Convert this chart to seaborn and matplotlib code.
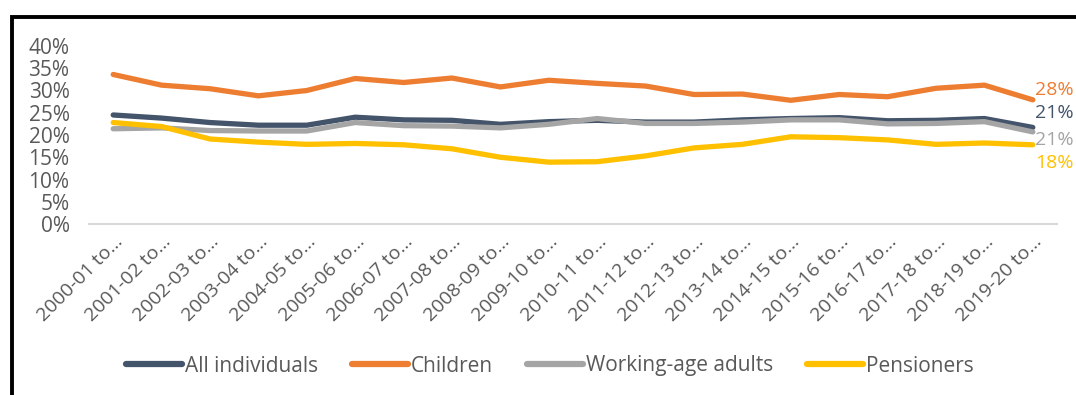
import numpy as np
import pandas as pd
import matplotlib
matplotlib.use('Agg')
import matplotlib.pyplot as plt
import seaborn as sns
from matplotlib.patches import Rectangle

years=["2000-01","2001-02","2002-03","2003-04","2004-05","2005-06","2006-07","2007-08","2008-09","2009-10",
       "2010-11","2011-12","2012-13","2013-14","2014-15","2015-16","2016-17","2017-18","2018-19","2019-20"]
labels=[y+" to…" for y in years]

all_individuals=[24.5,23.8,22.8,22.2,22.2,24.0,23.4,23.3,22.4,23.0,23.3,22.9,22.9,23.4,23.7,23.9,23.2,23.3,23.7,21.7]
children=[33.6,31.2,30.4,28.8,30.0,32.7,31.8,32.8,30.8,32.3,31.6,31.0,29.1,29.2,27.8,29.1,28.6,30.5,31.2,27.9]
working_age=[21.4,21.6,21.0,20.9,20.9,22.8,22.1,22.0,21.6,22.4,23.7,22.6,22.6,22.9,23.4,23.4,22.5,22.6,23.0,20.7]
pensioners=[22.8,21.9,19.1,18.4,17.9,18.1,17.8,16.9,15.0,13.9,14.0,15.3,17.1,17.9,19.6,19.4,18.9,17.9,18.2,17.8]

groups=["All individuals","Children","Working-age adults","Pensioners"]
colors=["#44546A","#ED7D31","#A5A5A5","#FFC000"]
end_labels=["21%","28%","21%","18%"]

df=pd.DataFrame({"period":labels*4,
                 "value":np.array(all_individuals+children+working_age+pensioners)/100,
                 "group":np.repeat(groups,len(labels))})

sns.set_style("white")
plt.rcParams['font.family']=['Open Sans','DejaVu Sans']
text_col="#595959"

fig=plt.figure(figsize=(10.76,3.95),dpi=100)
ax=fig.add_axes([89/1076,1-224/395,968/1076,178/395])

sns.lineplot(data=df,x="period",y="value",hue="group",hue_order=groups,palette=colors,
             linewidth=3.8,ax=ax,legend=False,sort=False)
for line in ax.get_lines():
    line.set_solid_capstyle('round')
    line.set_solid_joinstyle('round')

ax.set_ylim(0,0.4)
ax.set_xlim(-0.5,len(labels)-0.5)
ax.set_yticks(np.arange(0,0.41,0.05))
ax.set_yticklabels(["%d%%"%round(v*100) for v in np.arange(0,0.41,0.05)],color=text_col,fontsize=15)
ax.set_xticks(range(len(labels)))
ax.set_xticklabels(labels,rotation=45,ha='right',rotation_mode='anchor',color=text_col,fontsize=14)
ax.tick_params(axis='both',length=0)
ax.tick_params(axis='y',pad=14)
ax.tick_params(axis='x',pad=6)
ax.set_xlabel("")
ax.set_ylabel("")
for s in ["top","right","left"]:
    ax.spines[s].set_visible(False)
ax.spines["bottom"].set_color("#D9D9D9")
ax.spines["bottom"].set_linewidth(1.5)

# end labels, nudged apart like the original
offsets={"Children":0.022,"All individuals":0.032,"Working-age adults":-0.018,"Pensioners":-0.041}
series=[all_individuals,children,working_age,pensioners]
for g,c,lab,vals in zip(groups,colors,end_labels,series):
    ax.text(len(labels)-1+0.04,vals[-1]/100+offsets[g],lab,color=c,fontsize=14,va='center',ha='left',clip_on=False)

handles=[plt.Line2D([0],[0],color=c,lw=4.5,solid_capstyle='round') for c in colors]
fig.legend(handles,groups,loc='center',ncol=4,bbox_to_anchor=(0.511,1-366/395),frameon=False,
           fontsize=15,labelcolor=text_col,handlelength=2.7,handletextpad=0.15,columnspacing=1.6)

fig.patches.append(Rectangle((11.5/1076,-0.1),1.2,1-17/395+0.1,transform=fig.transFigure,
                             fill=False,edgecolor='black',linewidth=2.8,zorder=10))

fig.savefig("out.png",dpi=100)
